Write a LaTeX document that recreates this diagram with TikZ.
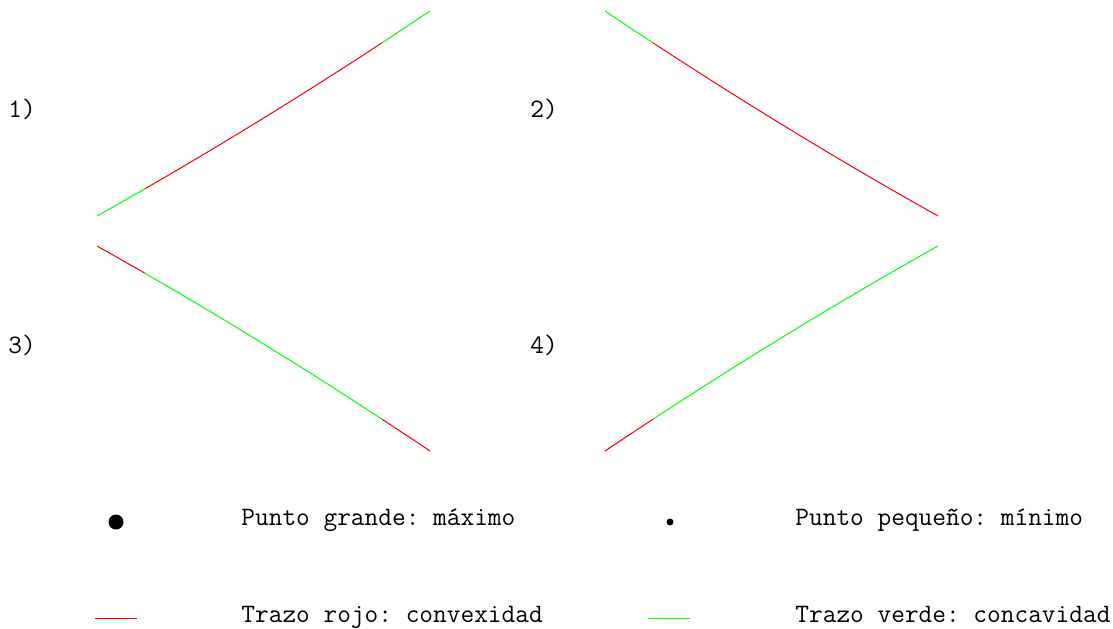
\documentclass[tikz,border=0pt]{standalone}
\usepackage{fontspec}
\usepackage{tikz}
\usetikzlibrary{positioning,calc}
\definecolor{TrazoRojo}{RGB}{255,0,0}
\definecolor{TrazoVerde}{RGB}{0,255,0}
\tikzset{
  lbl/.style={anchor=base west,inner sep=0pt,font=\ttfamily\fontsize{13.3}{15}\selectfont},
  rojo/.style={draw=TrazoRojo,line width=0.5pt},
  verde/.style={draw=TrazoVerde,line width=0.5pt},
  dot/.style={circle,fill=black,inner sep=0pt},
}
\frenchspacing

\begin{document}
\begin{tikzpicture}[x=0.5pt,y=-0.5pt]
\useasboundingbox (0,0) rectangle (1113,628);
% 1)
\draw[verde] plot[domain=0:0.144,samples=10] ({97+333*\x},{216-205*(0.91*\x+0.09*\x*\x)});
\draw[rojo] plot[domain=0.144:0.856,samples=40] ({97+333*\x},{216-205*(0.91*\x+0.09*\x*\x)});
\draw[verde] plot[domain=0.856:1,samples=10] ({97+333*\x},{216-205*(0.91*\x+0.09*\x*\x)});
% 2)
\draw[rojo] plot[domain=0:0.856,samples=40] ({938-333*\x},{216-205*(0.91*\x+0.09*\x*\x)});
\draw[verde] plot[domain=0.856:1,samples=10] ({938-333*\x},{216-205*(0.91*\x+0.09*\x*\x)});
% 3)
\draw[rojo] plot[domain=0:0.144,samples=10] ({97+333*\x},{246+205*(0.91*\x+0.09*\x*\x)});
\draw[verde] plot[domain=0.144:0.856,samples=40] ({97+333*\x},{246+205*(0.91*\x+0.09*\x*\x)});
\draw[rojo] plot[domain=0.856:1,samples=10] ({97+333*\x},{246+205*(0.91*\x+0.09*\x*\x)});
% 4)
\draw[verde] plot[domain=0:0.856,samples=40] ({938-333*\x},{246+205*(0.91*\x+0.09*\x*\x)});
\draw[rojo] plot[domain=0.856:1,samples=10] ({938-333*\x},{246+205*(0.91*\x+0.09*\x*\x)});

\node[lbl] (n1) at (8,117) {1)};
\node[lbl] (n2) at (530,117) {2)};
\node[lbl] (n3) at (8,353) {3)};
\node[lbl] (n4) at (530,353) {4)};

% leyenda
\node[dot,minimum size=7.5pt] (big) at (116,522) {};
\node[lbl] (tbig) at (241,525) {Punto grande: máximo};
\node[dot,minimum size=3.5pt] (small) at (670,522) {};
\node[lbl] (tsmall) at (795,525) {Punto pequeño: mínimo};
\coordinate (r1) at (95,618);
\coordinate (r2) at (137,618);
\draw[rojo] (r1) -- (r2);
\node[lbl] (trojo) at (241,622) {Trazo rojo: convexidad};
\coordinate (g1) at (648,618);
\coordinate (g2) at (690,618);
\draw[verde] (g1) -- (g2);
\node[lbl] (tverde) at (795,622) {Trazo verde: concavidad};
\end{tikzpicture}
\end{document}
